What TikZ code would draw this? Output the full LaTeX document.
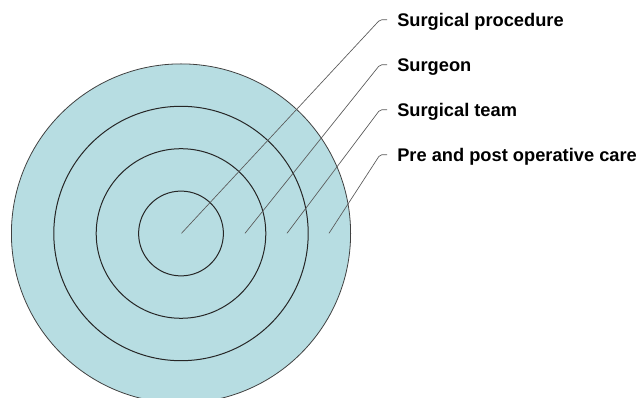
\documentclass[tikz,border=0pt]{standalone}
\usepackage{fontspec}
\setmainfont{Liberation Sans}
\usetikzlibrary{positioning}
\definecolor{ringblue}{RGB}{183,221,226}
\tikzstyle{ring} = [draw = black!85, line width = 0.75pt]
\tikzstyle{lbl} = [anchor = base west, inner xsep = 7.5pt,
  font = \fontsize{13.7}{16}\selectfont\bfseries]
\tikzstyle{leader} = [
  draw = black!65, line width = 0.5pt,
  rounded corners = 1.5pt
]

\begin{document}
\begin{tikzpicture}[x = 0.75pt, y = -0.75pt]
      \useasboundingbox (0, 0) rectangle (639, 398);
      \clip (0, 0) rectangle (639, 398);
      % rings
      \coordinate (ctr) at (181, 233.5);
      \fill [ringblue, draw = black!75, line width = 0.6pt] (ctr) circle [radius = 169.6];
      \foreach \r in {42.4, 84.8, 127.2}
        \draw [ring] (ctr) circle [radius = \r];
      % feet of the leaders
      \coordinate (foot-1) at (181.5, 233.3);
      \coordinate (foot-2) at (245, 233.3);
      \coordinate (foot-3) at (287, 233.3);
      \coordinate (foot-4) at (329, 233.3);
      % labels
      \node [lbl] (proc) at (387, 26.7) {Surgical procedure};
      \node [lbl, below = 33.75pt of proc.base west, anchor = base west] (surgeon) {Surgeon};
      \node [lbl, below = 33.75pt of surgeon.base west, anchor = base west] (team) {Surgical team};
      \node [lbl, below = 33.75pt of team.base west, anchor = base west] (care) {Pre and post operative care};

      \draw [leader] (foot-1) -- ([xshift = -5.25pt, yshift = 5.25pt]proc.base west) --
      ([yshift = 5.25pt]proc.base west);
      \draw [leader] (foot-2) -- ([xshift = -5.25pt, yshift = 5.25pt]surgeon.base west) --
      ([yshift = 5.25pt]surgeon.base west);
      \draw [leader] (foot-3) -- ([xshift = -5.25pt, yshift = 5.25pt]team.base west) --
      ([yshift = 5.25pt]team.base west);
      \draw [leader] (foot-4) -- ([xshift = -5.25pt, yshift = 5.25pt]care.base west) --
      ([yshift = 5.25pt]care.base west);
\end{tikzpicture}
\end{document}
